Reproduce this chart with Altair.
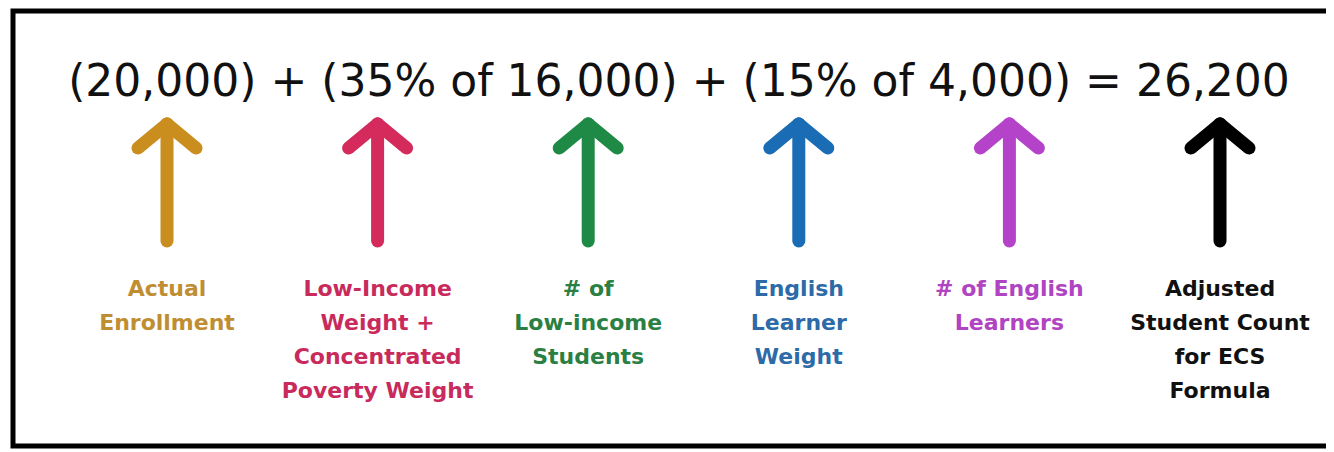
import altair as alt
import pandas as pd

# ---- data ----
terms = ["enroll", "li_weight", "li_students", "el_weight", "el_students", "adjusted"]
labels = [
    "Actual\nEnrollment",
    "Low-Income\nWeight +\nConcentrated\nPoverty Weight",
    "# of\nLow-income\nStudents",
    "English\nLearner\nWeight",
    "# of English\nLearners",
    "Adjusted\nStudent Count\nfor ECS\nFormula",
]
arrow_colors = ["#C98E1E", "#D42A5C", "#1F8A45", "#1A6DB5", "#B443C9", "#000000"]
text_colors = ["#BF8E33", "#C92A5C", "#2A8043", "#2C6AA8", "#B044C2", "#111111"]
equation = "(20,000) + (35% of 16,000) + (15% of 4,000) = 26,200"

df = pd.DataFrame({"term": terms, "label": labels})

W, H = 1318, 444
xs = alt.X("term:N", sort=terms, axis=None,
           scale=alt.Scale(type="point", domain=terms, range=[159, 1212], padding=0))
col = alt.Color("term:N", legend=None,
                scale=alt.Scale(domain=terms, range=arrow_colors))
tcol = alt.Color("term:N", legend=None,
                 scale=alt.Scale(domain=terms, range=text_colors))

base = alt.Chart(df)

border = alt.Chart(pd.DataFrame({"a": [0]})).mark_rect(
    fill="white", stroke="#000", strokeWidth=5
).encode(x=alt.value(5), x2=alt.value(1340), y=alt.value(3), y2=alt.value(438))

eq = alt.Chart(pd.DataFrame({"t": [equation]})).mark_text(
    font="DejaVu Sans", fontSize=44, color="#111", baseline="alphabetic", align="center"
).encode(text="t:N", x=alt.value(671), y=alt.value(88))

SW = 13
shaft = base.mark_rule(strokeWidth=SW, strokeCap="round").encode(
    x=xs, y=alt.value(116), y2=alt.value(233), color=col)
left_arm = base.mark_rule(strokeWidth=SW, strokeCap="round", x2Offset=-29).encode(
    x=xs, x2=alt.X2("term:N"), y=alt.value(116), y2=alt.value(140), color=col)
right_arm = base.mark_rule(strokeWidth=SW, strokeCap="round", x2Offset=29).encode(
    x=xs, x2=alt.X2("term:N"), y=alt.value(116), y2=alt.value(140), color=col)

txt = base.transform_calculate(
    lines="split(datum.label, '\\n')"
).mark_text(
    font="DejaVu Sans", fontWeight="bold", fontSize=22, baseline="middle",
    align="center", lineHeight=34
).encode(x=xs, y=alt.value(281), text="lines:N", color=tcol)

chart = alt.layer(border, eq, shaft, left_arm, right_arm, txt).resolve_scale(
    color="independent"
).properties(
    width=W, height=H, autosize="none", padding=0
).configure_view(stroke=None)

chart.save("out.html", embed_options={"renderer": "svg", "actions": False})
